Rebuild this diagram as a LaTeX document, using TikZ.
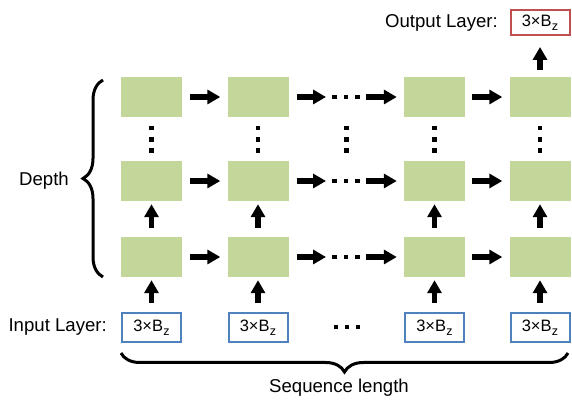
\documentclass[tikz,border=0pt]{standalone}
\usepackage{fontspec}
\setmainfont{Liberation Sans}
\usetikzlibrary{arrows.meta,decorations.pathreplacing}
\definecolor{cellgreen}{HTML}{C4D79B}
\definecolor{inblue}{HTML}{4F81BD}
\definecolor{outred}{HTML}{C0504D}
\newcommand{\Bsz}{3×B\kern0.3pt\raisebox{-0.45ex}{\fontsize{12.5}{12.5}\selectfont z}}
\begin{document}
\begin{tikzpicture}[x=1pt,y=1pt,
  cell/.style={fill=cellgreen, minimum width=61pt, minimum height=40pt, inner sep=0pt},
  inbox/.style={draw=inblue, line width=2pt, fill=white, minimum width=59pt, minimum height=29pt, inner sep=0pt, font=\fontsize{16.5}{16.5}\selectfont},
  outbox/.style={draw=outred, line width=2pt, fill=white, minimum width=59pt, minimum height=25pt, inner sep=0pt, font=\fontsize{16.5}{16.5}\selectfont},
  lbl/.style={font=\fontsize{18.6}{18.6}\selectfont, inner sep=0pt},
  sqdot/.style={fill=black, minimum size=4.6pt, inner sep=0pt},
  flow/.style={line width=5.5pt, -{Triangle[length=13pt,width=14pt]}},
  bracestyle/.style={line width=3pt, decorate, decoration={brace, amplitude=#1}}
]
\useasboundingbox (0,0) rectangle (572,401);
% cells and inputs
\foreach \c/\x in {1/151.5,2/258,3/434.5,4/540} {
  \node[cell] (t\c) at (\x,304) {};
  \node[cell] (m\c) at (\x,220) {};
  \node[cell] (b\c) at (\x,144) {};
  \node[inbox] (i\c) at (\x,73.5) {\Bsz};
}
\node[outbox] (o) at (540,378.5) {\Bsz};
% labels
\node[lbl, anchor=east] (inl) at (107,74) {Input Layer:};
\node[lbl, anchor=east] (outl) at (498,378) {Output Layer:};
\node[lbl] (depth) at (44,220) {Depth};
\node[lbl] (seq) at (339,13) {Sequence length};
% horizontal dots
\foreach \r/\y in {t/304,m/220,b/144} {
  \node[sqdot] (\r da) at (334.5,\y) {};
  \node[sqdot] (\r db) at (346,\y) {};
  \node[sqdot] (\r dc) at (357.5,\y) {};
}
% input dots
\node[sqdot] (ida) at (336,74) {};
\node[sqdot] (idb) at (347,74) {};
\node[sqdot] (idc) at (358,74) {};
% vertical dots
\foreach \k/\x in {1/151.5,2/258,3/346.5,4/434.5,5/540} {
  \node[sqdot] (v\k a) at (\x,273) {};
  \node[sqdot] (v\k b) at (\x,261.5) {};
  \node[sqdot] (v\k c) at (\x,250.5) {};
}
% horizontal arrows
\foreach \r in {t,m,b} {
  \draw[flow, shorten <=8pt, shorten >=7pt] (\r1) -- (\r2);
  \draw[flow, shorten <=8pt, shorten >=6pt] (\r2) -- (\r da);
  \draw[flow, shorten <=6pt, shorten >=7pt] (\r dc) -- (\r3);
  \draw[flow, shorten <=7pt, shorten >=7pt] (\r3) -- (\r4);
}
% vertical arrows
\foreach \c in {1,2,3,4} {
  \draw[flow, shorten <=9pt, shorten >=3pt] (i\c) -- (b\c);
  \draw[flow, shorten <=9pt, shorten >=3pt] (b\c) -- (m\c);
}
\draw[flow, shorten <=7pt, shorten >=11pt] (t4) -- (o);
% braces
\draw[bracestyle=20pt] (103,124) -- (103,321);
\draw[bracestyle=19pt] (568,48) -- (121,48);
\end{tikzpicture}
\end{document}
